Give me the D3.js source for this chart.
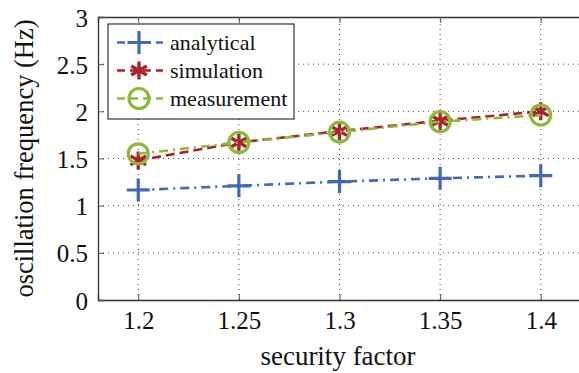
<!DOCTYPE html>
<html>
<head>
<meta charset="utf-8">
<script src="https://cdn.jsdelivr.net/npm/d3@7"></script>
<style>
  body { margin: 0; background: #fff; }
</style>
</head>
<body>
<div id="chart"></div>
<script>
const factors = [1.2, 1.25, 1.3, 1.35, 1.4]
const analytical = [1.166, 1.21, 1.255, 1.29, 1.318]
const simulation = [1.48, 1.67, 1.79, 1.9, 2.0]
const measurement = [1.55, 1.67, 1.78, 1.89, 1.96]
const xTicks = [1.2, 1.25, 1.3, 1.35, 1.4]
const yTicks = [0, 0.5, 1, 1.5, 2, 2.5, 3]

const FONT = "'Liberation Serif', 'DejaVu Serif', 'Times New Roman', serif"
const width = 579, height = 373
const margin = {top: 17, right: -2, bottom: 73, left: 98}

const svg = d3.select("#chart").append("svg")
    .attr("width", width).attr("height", height)
    .attr("font-family", FONT)

const x = d3.scaleLinear().domain([1.18, 1.42]).range([margin.left, width - margin.right])
const y = d3.scaleLinear().domain([0, 3]).range([height - margin.bottom, margin.top])

// grid
const grid = svg.append("g")
    .attr("stroke", "#333").attr("stroke-width", 0.9)
    .attr("stroke-dasharray", "1,4")
grid.selectAll(".gx").data(xTicks).enter().append("line")
    .attr("x1", d => x(d)).attr("x2", d => x(d))
    .attr("y1", y(0)).attr("y2", y(3))
grid.selectAll(".gy").data(yTicks.slice(1, -1)).enter().append("line")
    .attr("y1", d => y(d)).attr("y2", d => y(d))
    .attr("x1", x(1.18)).attr("x2", x(1.42))

// axes
const xAxis = svg.append("g")
    .attr("transform", "translate(0," + y(0) + ")")
    .call(d3.axisBottom(x).tickValues(xTicks).tickSize(-6).tickPadding(11).tickFormat(d3.format("")))
const xTop = svg.append("g")
    .attr("transform", "translate(0," + y(3) + ")")
    .call(d3.axisTop(x).tickValues(xTicks).tickSize(-6).tickFormat(""))
const yAxis = svg.append("g")
    .attr("transform", "translate(" + x(1.18) + ",0)")
    .call(d3.axisLeft(y).tickValues(yTicks).tickSize(-6).tickPadding(10).tickFormat(d3.format("")))

svg.selectAll("g").attr("font-family", FONT)
svg.selectAll(".domain").attr("stroke", "#333").attr("stroke-width", 1.3)
svg.selectAll(".tick line").attr("stroke", "#555")
svg.selectAll(".tick text").attr("font-size", 25).attr("fill", "#111")
yAxis.selectAll(".tick text").attr("dy", "0.36em")

svg.append("text")
    .attr("x", 338).attr("y", 365)
    .attr("text-anchor", "middle").attr("font-size", 27).attr("fill", "#111")
    .text("security factor")
svg.append("text")
    .attr("transform", "translate(33," + y(1.5) + ") rotate(-90)")
    .attr("text-anchor", "middle").attr("font-size", 26.5).attr("fill", "#111")
    .text("oscillation frequency (Hz)")

// series
const series = [
  {name: "analytical", values: analytical, color: "#4369b3", dash: "9,5,2,5", marker: "plus"},
  {name: "simulation", values: simulation, color: "#ac222c", dash: "9,5", marker: "star"},
  {name: "measurement", values: measurement, color: "#8cb93b", dash: "9,5,2,5", marker: "circle"}
]

const line = d3.line().x(d => x(d[0])).y(d => y(d[1]))

function drawMarker(g, kind, color) {
  if (kind === "plus") {
    g.append("path").attr("d", "M-11.5,0H11.5M0,-11.5V11.5")
      .attr("stroke", color).attr("stroke-width", 3.2).attr("fill", "none")
  } else if (kind === "star") {
    let d = ""
    for (let i = 0; i < 3; i++) {
      const a = Math.PI / 2 + i * Math.PI / 3
      d += "M" + (9 * Math.cos(a)) + "," + (9 * Math.sin(a)) + "L" + (-9 * Math.cos(a)) + "," + (-9 * Math.sin(a))
    }
    g.append("path").attr("d", d)
      .attr("stroke", color).attr("stroke-width", 3.4).attr("fill", "none")
  } else {
    g.append("circle").attr("r", 10)
      .attr("stroke", color).attr("stroke-width", 3.2).attr("fill", "none")
  }
}

series.forEach(s => {
  const pts = factors.map((f, i) => [f, s.values[i]])
  svg.append("path").datum(pts)
    .attr("d", line).attr("fill", "none")
    .attr("stroke", s.color).attr("stroke-width", 2.6)
    .attr("stroke-dasharray", s.dash)
  pts.forEach(p => {
    const g = svg.append("g").attr("transform", "translate(" + x(p[0]) + "," + y(p[1]) + ")")
    drawMarker(g, s.marker, s.color)
  })
})

// legend
const legend = svg.append("g").attr("transform", "translate(108,24)")
legend.append("rect").attr("width", 186).attr("height", 95)
    .attr("fill", "#fff").attr("stroke", "#222").attr("stroke-width", 1.1)
series.forEach((s, i) => {
  const yy = 18.5 + i * 28
  legend.append("line").attr("x1", 9).attr("x2", 55).attr("y1", yy).attr("y2", yy)
    .attr("stroke", s.color).attr("stroke-width", 2.6).attr("stroke-dasharray", "8,5")
  const g = legend.append("g").attr("transform", "translate(31," + yy + ")")
  drawMarker(g, s.marker, s.color)
  legend.append("text").attr("x", 62).attr("y", yy).attr("dy", "0.33em")
    .attr("font-size", 22).attr("fill", "#111").text(s.name)
})
</script>
</body>
</html>
